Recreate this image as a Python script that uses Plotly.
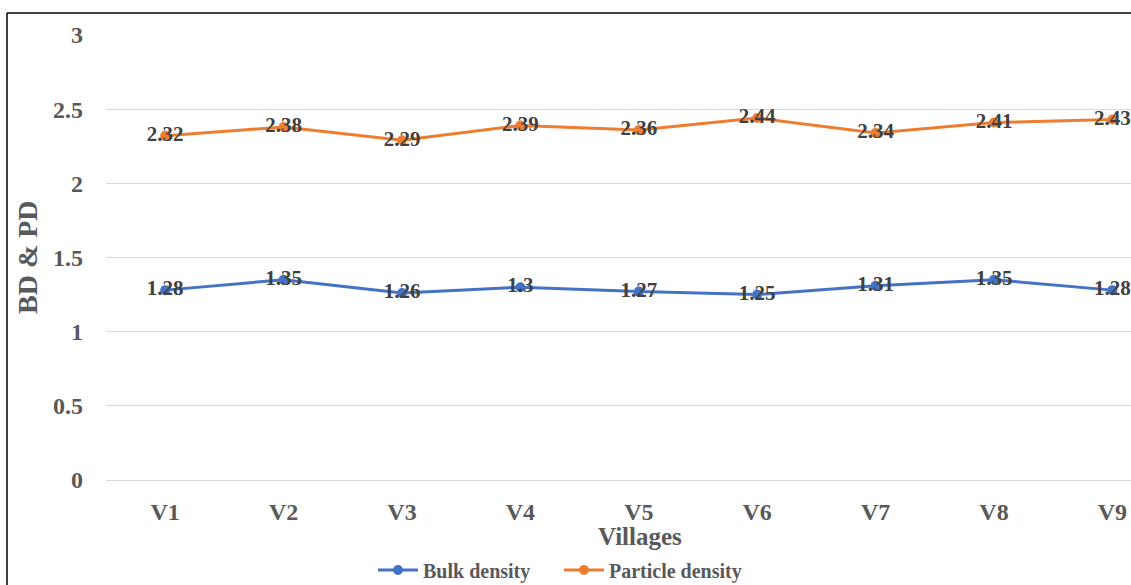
import plotly.graph_objects as go

villages = ["V1", "V2", "V3", "V4", "V5", "V6", "V7", "V8", "V9"]
bulk_density = [1.28, 1.35, 1.26, 1.3, 1.27, 1.25, 1.31, 1.35, 1.28]
particle_density = [2.32, 2.38, 2.29, 2.39, 2.36, 2.44, 2.34, 2.41, 2.43]
y_ticks = [0, 0.5, 1, 1.5, 2, 2.5, 3]

FONT = "Liberation Serif"
GREY = "#595959"
W, H = 1131, 585
L, T, B = 106, 35, 105
PLOT_W = W - L
PLOT_H = H - T - B


def px_x(p):
    return (p - L) / PLOT_W


def px_y(p):
    return (H - B - p) / PLOT_H


fig = go.Figure()
series = [
    ("Bulk density", bulk_density, "#4472C4"),
    ("Particle density", particle_density, "#ED7D31"),
]
for name, vals, col in series:
    fig.add_trace(go.Scatter(
        x=villages, y=vals, name=name, mode="lines+markers+text",
        line=dict(color=col, width=3),
        marker=dict(color=col, size=10),
        text=[f"{v:g}" for v in vals], textposition="middle center",
        textfont=dict(family=FONT, size=21, color="#404040", weight="bold"),
        cliponaxis=False,
    ))

fig.update_layout(
    width=W, height=H,
    margin=dict(l=L, r=0, t=T, b=B, autoexpand=False),
    plot_bgcolor="white", paper_bgcolor="white",
    showlegend=True,
    legend=dict(orientation="h", x=px_x(373), xanchor="left",
                y=px_y(570), yanchor="middle",
                font=dict(family=FONT, size=20, color=GREY, weight="bold"),
                itemwidth=40, entrywidth=131, tracegroupgap=0),
    xaxis=dict(range=[-0.5, 8.157], showgrid=False, showline=False,
               tickfont=dict(family=FONT, size=24, color=GREY, weight="bold"),
               ticklabelstandoff=15, automargin=False),
    yaxis=dict(range=[0, 3], tickvals=y_ticks, ticktext=[f"{v:g}" for v in y_ticks],
               showgrid=True, gridcolor="#d9d9d9", gridwidth=1,
               zeroline=True, zerolinecolor="#d9d9d9", zerolinewidth=1,
               showline=False, automargin=False,
               tickfont=dict(family=FONT, size=24, color=GREY, weight="bold"),
               ticklabelstandoff=22),
)

# axis titles
fig.add_annotation(text="BD & PD", xref="paper", yref="paper",
                   x=px_x(27), y=px_y(257), xanchor="center", yanchor="middle",
                   showarrow=False, textangle=-90,
                   font=dict(family=FONT, size=28, color=GREY, weight="bold"))
fig.add_annotation(text="Villages", xref="paper", yref="paper",
                   x=px_x(640), y=px_y(536), xanchor="center", yanchor="middle",
                   showarrow=False,
                   font=dict(family=FONT, size=25, color=GREY, weight="bold"))

# chart frame (left and top edges)
fig.add_shape(type="line", xref="paper", yref="paper",
              x0=px_x(7), x1=px_x(7), y0=px_y(13), y1=px_y(600),
              line=dict(color="black", width=1.5))
fig.add_shape(type="line", xref="paper", yref="paper",
              x0=px_x(7), x1=px_x(1140), y0=px_y(13), y1=px_y(13),
              line=dict(color="black", width=1.5))

fig.write_html("out.html")
